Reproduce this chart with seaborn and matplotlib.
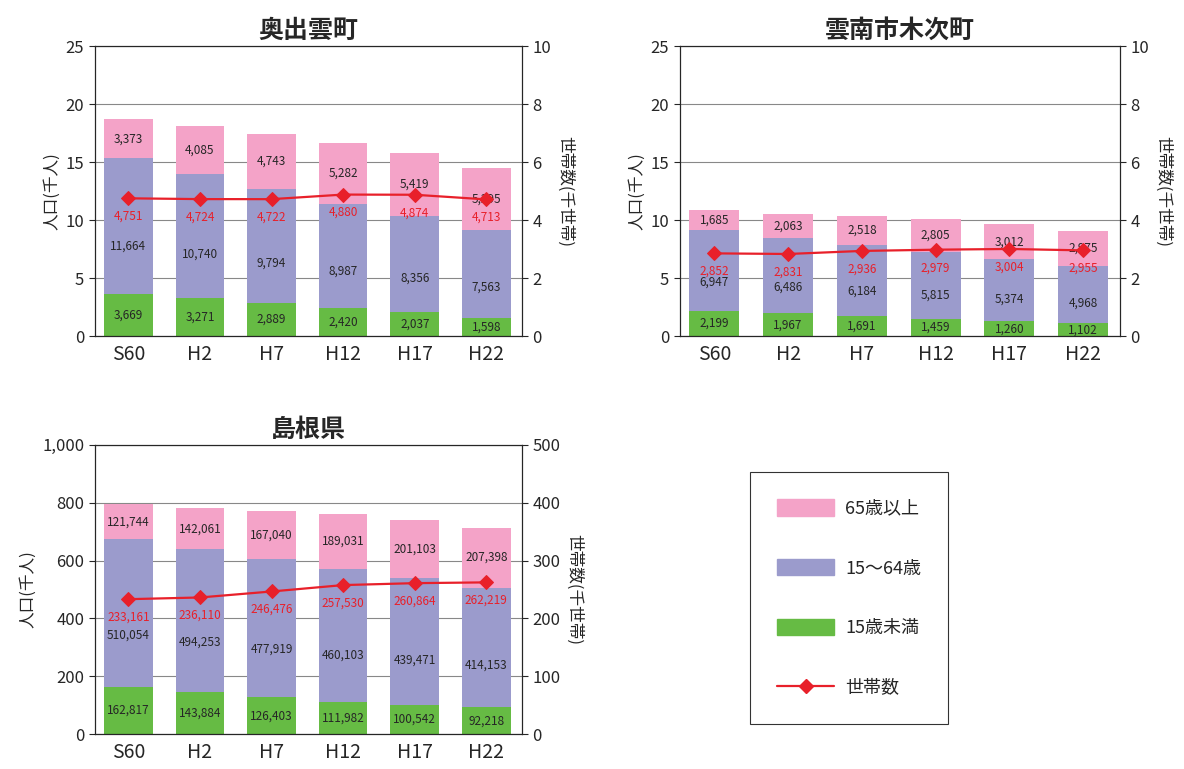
import numpy as np
import seaborn as sns
import matplotlib.pyplot as plt
from matplotlib.patches import Patch
from matplotlib.lines import Line2D
from matplotlib.ticker import FuncFormatter

sns.set_style("white")
plt.rcParams['font.family'] = ['Noto Sans CJK JP', 'DejaVu Sans']

years = ["S60", "H2", "H7", "H12", "H17", "H22"]

okuizumo_young = [3669, 3271, 2889, 2420, 2037, 1598]
okuizumo_work = [11664, 10740, 9794, 8987, 8356, 7563]
okuizumo_old = [3373, 4085, 4743, 5282, 5419, 5295]
okuizumo_hh = [4751, 4724, 4722, 4880, 4874, 4713]

kitsugi_young = [2199, 1967, 1691, 1459, 1260, 1102]
kitsugi_work = [6947, 6486, 6184, 5815, 5374, 4968]
kitsugi_old = [1685, 2063, 2518, 2805, 3012, 2975]
kitsugi_hh = [2852, 2831, 2936, 2979, 3004, 2955]

shimane_young = [162817, 143884, 126403, 111982, 100542, 92218]
shimane_work = [510054, 494253, 477919, 460103, 439471, 414153]
shimane_old = [121744, 142061, 167040, 189031, 201103, 207398]
shimane_hh = [233161, 236110, 246476, 257530, 260864, 262219]

c_young = "#66bb44"
c_work = "#9b9bcc"
c_old = "#f4a3c8"
c_line = "#e8202a"

fig = plt.figure(figsize=(11.84, 7.69), dpi=100)


def panel(rect, title, young, work, old, hh, scale, ymax, ystep, y2max, y2step, thousands):
    ax = fig.add_axes(rect)
    y = np.array(young) / scale
    w = np.array(work) / scale
    o = np.array(old) / scale
    h = np.array(hh) / scale
    x = np.arange(len(years))
    ax.yaxis.grid(True, color="#888888", lw=0.8)
    ax.set_axisbelow(True)
    kw = dict(width=0.68, ax=ax, saturation=1, linewidth=0)
    sns.barplot(x=years, y=y, color=c_young, **kw)
    sns.barplot(x=years, y=w, bottom=y, color=c_work, **kw)
    sns.barplot(x=years, y=o, bottom=y + w, color=c_old, **kw)
    ax.set_ylim(0, ymax)
    ax.set_xlim(-0.47, 5.5)
    ax.set_yticks(np.arange(0, ymax + 0.001, ystep))
    if thousands:
        ax.yaxis.set_major_formatter(FuncFormatter(lambda v, p: f"{int(v):,}"))
    ax.tick_params(axis='y', labelsize=12, length=4, direction='out', left=True)
    ax.tick_params(axis='x', labelsize=14, length=0, pad=6)
    ax.set_ylabel("人口(千人)", fontsize=12)
    ax.set_title(title, fontsize=18, fontweight='bold', pad=6)
    for s in ax.spines.values():
        s.set_color("black")
        s.set_linewidth(0.8)
    for i in x:
        ax.text(i, y[i] / 2, f"{young[i]:,}", ha='center', va='center', fontsize=8.5)
        ax.text(i, y[i] + w[i] * 0.35, f"{work[i]:,}", ha='center', va='center', fontsize=8.5)
        ax.text(i, y[i] + w[i] + o[i] / 2, f"{old[i]:,}", ha='center', va='center', fontsize=8.5)
    ax2 = ax.twinx()
    sns.lineplot(x=x, y=h, color=c_line, marker='D', markersize=7, markeredgecolor=c_line,
                 lw=1.6, ax=ax2)
    ax2.set_ylim(0, y2max)
    ax2.set_yticks(np.arange(0, y2max + 0.001, y2step))
    ax2.tick_params(axis='y', labelsize=12, length=4, direction='out', right=True)
    ax2.set_ylabel("世帯数(千世帯)", fontsize=12, rotation=270, labelpad=16)
    for i in x:
        ax2.annotate(f"{hh[i]:,}", (i, h[i]), xytext=(0, -13), textcoords='offset points',
                     ha='center', va='center', fontsize=8.5, color=c_line)
    return ax


panel([0.080, 0.563, 0.361, 0.377], "奥出雲町", okuizumo_young, okuizumo_work, okuizumo_old,
      okuizumo_hh, 1000, 25, 5, 10, 2, False)
panel([0.574, 0.563, 0.372, 0.377], "雲南市木次町", kitsugi_young, kitsugi_work, kitsugi_old,
      kitsugi_hh, 1000, 25, 5, 10, 2, False)
panel([0.080, 0.0455, 0.361, 0.376], "島根県", shimane_young, shimane_work, shimane_old,
      shimane_hh, 1000, 1000, 200, 500, 100, True)

handles = [Patch(color=c_old), Patch(color=c_work), Patch(color=c_young),
           Line2D([], [], color=c_line, marker='D', markersize=7, lw=1.6)]
labels = ["65歳以上", "15～64歳", "15歳未満", "世帯数"]
leg = fig.legend(handles, labels, loc='center', bbox_to_anchor=(0.717, 0.222), fontsize=13,
                 frameon=True, fancybox=False, edgecolor='black', labelspacing=2.3,
                 handlelength=3.2, handleheight=1.0, borderpad=1.5, handletextpad=0.6)
leg.get_frame().set_linewidth(0.8)

fig.savefig("out.png", dpi=100)
